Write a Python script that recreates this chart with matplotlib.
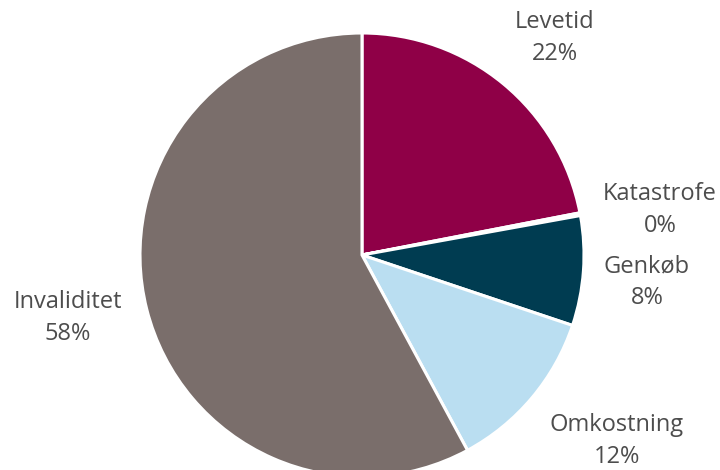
import matplotlib
matplotlib.use("Agg")
import matplotlib.pyplot as plt

# ── Data ─────────────────────────────────────────────────────────────────────
categories = ["Levetid", "Katastrofe", "Genkøb", "Omkostning", "Invaliditet"]
shares = [22, 0.2, 8, 12, 58]
colors = ["#8f0047", "#ffffff", "#003c51", "#badef1", "#7a6e6b"]

# label centres in pixel coords (x from left, y from bottom)
label_xy = [(555, 432), (660, 260), (647, 188), (617, 29), (68, 152)]

plt.rcParams["font.family"] = ["Open Sans", "DejaVu Sans"]

fig = plt.figure(figsize=(7.2, 4.7), dpi=100)
ax = fig.add_axes([0, 0, 1, 1])

cx, cy, r = 362, 215, 222
wedges, _ = ax.pie(shares, colors=colors, startangle=90, counterclock=False,
                   center=(cx, cy), radius=r, frame=True,
                   wedgeprops=dict(edgecolor="white", linewidth=2.2))
ax.set_xlim(0, 720)
ax.set_ylim(0, 470)
ax.set_aspect("equal")
ax.axis("off")

for (x, y), name, val in zip(label_xy, categories, shares):
    ax.text(x, y, f"{name}\n{round(val)}%", ha="center", va="center",
            fontsize=17, color="#4d4d4d", linespacing=1.4)

fig.savefig("out.png", dpi=100)
